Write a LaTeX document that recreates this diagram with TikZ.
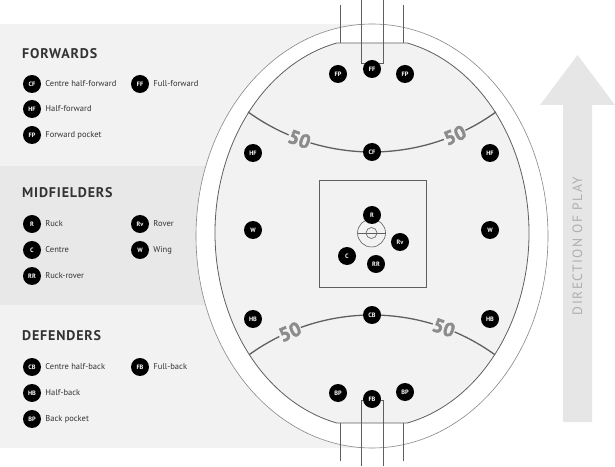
\documentclass[tikz,border=0pt]{standalone}
\usepackage{fontspec}
\setmainfont{PT Sans}
\newfontfamily\headfont[LetterSpace=6]{PT Sans}
\newfontfamily\dirfont[LetterSpace=11]{PT Sans}
\newfontfamily\fiftyfont[FakeBold=2.5]{PT Sans Bold}
\usetikzlibrary{positioning}

\definecolor{bandlight}{RGB}{242,242,242}
\definecolor{bandmid}{RGB}{232,232,232}
\definecolor{field}{RGB}{242,242,242}
\definecolor{fieldline}{RGB}{95,95,95}
\definecolor{ringline}{RGB}{135,135,135}
\definecolor{fiftygrey}{RGB}{140,140,140}
\definecolor{arrowgrey}{RGB}{230,230,230}
\definecolor{dirgrey}{RGB}{175,175,175}
\definecolor{headgrey}{RGB}{51,51,51}

\begin{document}
\begin{tikzpicture}[x=1pt,y=1pt,
	player/.style={shape=circle,fill=black,minimum size=18pt,inner sep=0pt,text=white,font=\bfseries\fontsize{6.3}{7}\selectfont},
	keytext/.style={inner sep=0pt,text=headgrey,font=\fontsize{8.5}{10}\selectfont},
	heading/.style={anchor=west,inner sep=0pt,text=headgrey,font=\headfont\bfseries\fontsize{14}{16}\selectfont},
	fifty/.style={fill=field,inner sep=0.5pt,text=fiftygrey,font=\fiftyfont\fontsize{19.5}{20}\selectfont},
	post/.style={draw=fieldline,line width=0.8pt}]
	
	\useasboundingbox (0,0) rectangle (615,466);
	
	% bands
	\fill[bandlight] (0,300) rectangle (372,442);
	\fill[bandmid] (0,161) rectangle (372,300);
	\fill[bandlight] (0,18) rectangle (372,161);
	
	% ground
	\filldraw[fill=white,draw=ringline,line width=0.6pt] (372,230) ellipse[x radius=176,y radius=212];
	\filldraw[fill=field,draw=fieldline,line width=0.8pt] (336.7,423) arc[start angle=103,end angle=257,x radius=157,y radius=195] -- (407.3,43) arc[start angle=283,end angle=437,x radius=157,y radius=195] -- cycle;
	
	% 50 metre arcs
	\draw[fieldline,line width=1.3pt] (372,526) ++(234.2:212) arc[start angle=234.2,end angle=305.8,radius=212];
	\draw[fieldline,line width=1.3pt] (372,-59) ++(54.2:210) arc[start angle=54.2,end angle=125.8,radius=210];
	\path (372,526) ++(250:212) node[fifty,rotate=-20] (fiftyTL) {50};
	\path (372,526) ++(293:212) node[fifty,rotate=23] (fiftyTR) {50};
	\path (372,-59) ++(113:210) node[fifty,rotate=23] (fiftyBL) {50};
	\path (372,-59) ++(70:210) node[fifty,rotate=-20] (fiftyBR) {50};
	
	% centre square and circles
	\draw[fieldline,line width=0.8pt] (319,179) rectangle (426,286);
	\draw[fieldline,line width=0.6pt] (371.5,233) circle[radius=14];
	\draw[fieldline,line width=0.6pt] (371.5,233) circle[radius=5.5];
	\draw[fieldline,line width=0.6pt] (357.5,233) -- (385.5,233);
	
	% goals
	\draw[post] (361,466) -- (361,403) -- (383,403) -- (383,466);
	\draw[post] (340,461) -- (340,423);
	\draw[post] (403,461) -- (403,423);
	\draw[post] (361,0) -- (361,66) -- (383,66) -- (383,0);
	\draw[post] (340,5) -- (340,43);
	\draw[post] (403,5) -- (403,43);
	
	% players
	\node[player] (fpL) at (338,392) {FP};
	\node[player] (ff) at (372,397) {FF};
	\node[player] (fpR) at (405,392) {FP};
	\node[player] (hfL) at (253,313) {HF};
	\node[player] (cf) at (372,314) {CF};
	\node[player] (hfR) at (490,313) {HF};
	\node[player] (wL) at (253,236) {W};
	\node[player] (wR) at (490,236) {W};
	\node[player] (r) at (372,251) {R};
	\node[player] (rv) at (400,224) {Rv};
	\node[player] (c) at (347,210) {C};
	\node[player] (rr) at (376,202) {RR};
	\node[player] (hbL) at (253,147) {HB};
	\node[player] (cb) at (372,151) {CB};
	\node[player] (hbR) at (490,147) {HB};
	\node[player] (bpL) at (338,73) {BP};
	\node[player] (fb) at (372,67) {FB};
	\node[player] (bpR) at (405,74) {BP};
	
	% key
	\node[heading] (forwards) at (22,412) {FORWARDS};
	\node[player] (lcf) at (32,382) {CF};
	\node[keytext,right=4pt of lcf] {Centre half-forward};
	\node[player] (lff) at (140,382) {FF};
	\node[keytext,right=4pt of lff] {Full-forward};
	\node[player] (lhf) at (32,357) {HF};
	\node[keytext,right=4pt of lhf] {Half-forward};
	\node[player] (lfp) at (32,331) {FP};
	\node[keytext,right=4pt of lfp] {Forward pocket};
	
	\node[heading] (midfielders) at (22,273) {MIDFIELDERS};
	\node[player] (lr) at (32,242) {R};
	\node[keytext,right=4pt of lr] {Ruck};
	\node[player] (lrv) at (140,242) {Rv};
	\node[keytext,right=4pt of lrv] {Rover};
	\node[player] (lc) at (32,216) {C};
	\node[keytext,right=4pt of lc] {Centre};
	\node[player] (lw) at (140,216) {W};
	\node[keytext,right=4pt of lw] {Wing};
	\node[player] (lrr) at (32,190) {RR};
	\node[keytext,right=4pt of lrr] {Ruck-rover};
	
	\node[heading] (defenders) at (22,130) {DEFENDERS};
	\node[player] (lcb) at (32,99) {CB};
	\node[keytext,right=4pt of lcb] {Centre half-back};
	\node[player] (lfb) at (140,99) {FB};
	\node[keytext,right=4pt of lfb] {Full-back};
	\node[player] (lhb) at (32,73) {HB};
	\node[keytext,right=4pt of lhb] {Half-back};
	\node[player] (lbp) at (32,47) {BP};
	\node[keytext,right=4pt of lbp] {Back pocket};
	
	% direction of play
	\fill[arrowgrey] (563,44) -- (563,361) -- (540,361) -- (577.5,411) -- (615,361) -- (592,361) -- (592,44) -- cycle;
	\node[rotate=90,text=dirgrey,font=\dirfont\fontsize{13.5}{15}\selectfont] (dirplay) at (577.5,220) {DIRECTION OF PLAY};
	
\end{tikzpicture}
\end{document}
